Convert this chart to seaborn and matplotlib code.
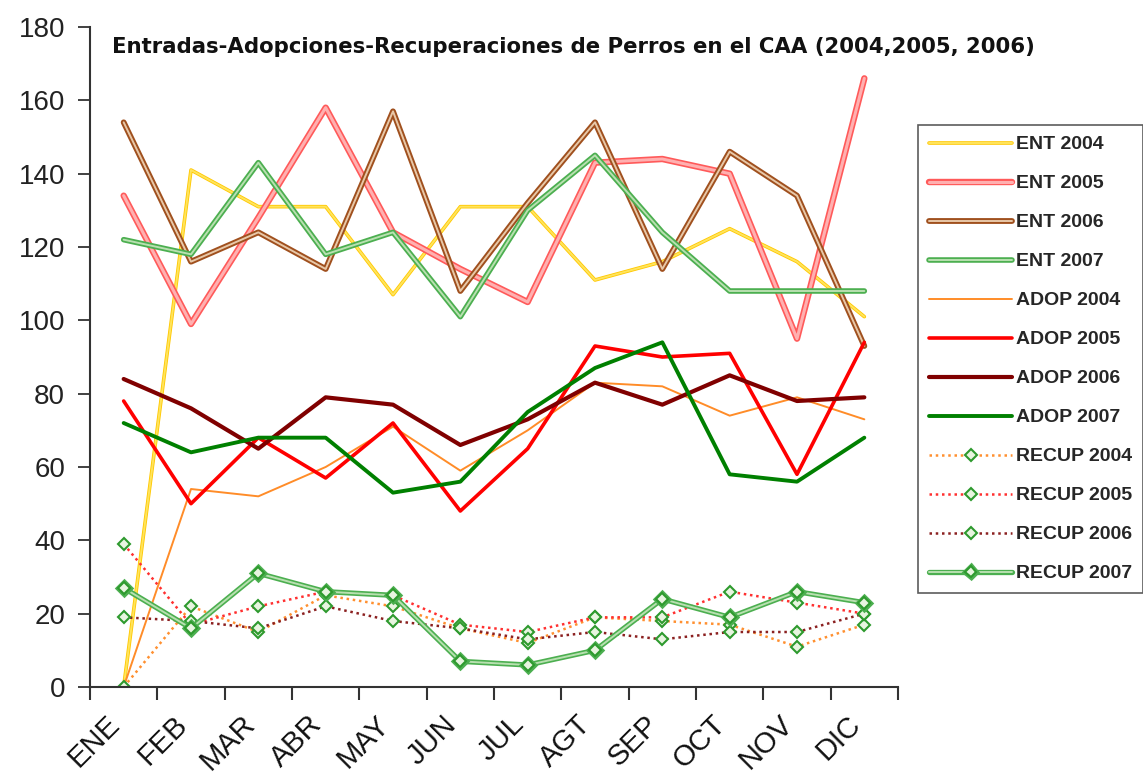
import matplotlib
matplotlib.use("Agg")
import matplotlib.pyplot as plt
import matplotlib.patheffects as pe
import matplotlib.transforms as mtransforms
import seaborn as sns
import pandas as pd
import numpy as np

months = ["ENE", "FEB", "MAR", "ABR", "MAY", "JUN", "JUL", "AGT", "SEP", "OCT", "NOV", "DIC"]

ent_2004 = [0, 141, 131, 131, 107, 131, 131, 111, 116, 125, 116, 101]
ent_2005 = [134, 99, 128, 158, 124, 114, 105, 143, 144, 140, 95, 166]
ent_2006 = [154, 116, 124, 114, 157, 108, 132, 154, 114, 146, 134, 93]
ent_2007 = [122, 118, 143, 118, 124, 101, 130, 145, 124, 108, 108, 108]

adop_2004 = [0, 54, 52, 60, 71, 59, 70, 83, 82, 74, 79, 73]
adop_2005 = [78, 50, 68, 57, 72, 48, 65, 93, 90, 91, 58, 94]
adop_2006 = [84, 76, 65, 79, 77, 66, 73, 83, 77, 85, 78, 79]
adop_2007 = [72, 64, 68, 68, 53, 56, 75, 87, 94, 58, 56, 68]

recup_2004 = [0, 22, 15, 25, 22, 16, 12, 19, 18, 17, 11, 17]
recup_2005 = [39, 17, 22, 26, 25, 17, 15, 19, 19, 26, 23, 20]
recup_2006 = [19, 18, 16, 22, 18, 16, 13, 15, 13, 15, 15, 20]
recup_2007 = [27, 16, 31, 26, 25, 7, 6, 10, 24, 19, 26, 23]

series = [
    ("ENT 2004", ent_2004), ("ENT 2005", ent_2005), ("ENT 2006", ent_2006), ("ENT 2007", ent_2007),
    ("ADOP 2004", adop_2004), ("ADOP 2005", adop_2005), ("ADOP 2006", adop_2006), ("ADOP 2007", adop_2007),
    ("RECUP 2004", recup_2004), ("RECUP 2005", recup_2005), ("RECUP 2006", recup_2006), ("RECUP 2007", recup_2007),
]

styles = {
    "ENT 2004": dict(color="#FFE45C", lw=1.4, ls="-", pe=[pe.Stroke(linewidth=2.6, foreground="#FFC800"), pe.Normal()]),
    "ENT 2005": dict(color="#FFB0B0", lw=2.2, ls="-", pe=[pe.Stroke(linewidth=4.6, foreground="#FF5A5A"), pe.Normal()]),
    "ENT 2006": dict(color="#E8C8A8", lw=1.4, ls="-", pe=[pe.Stroke(linewidth=4.2, foreground="#A0501E"), pe.Normal()]),
    "ENT 2007": dict(color="#B8E0B0", lw=1.4, ls="-", pe=[pe.Stroke(linewidth=4.0, foreground="#4CAF50"), pe.Normal()]),
    "ADOP 2004": dict(color="#FF8C28", lw=1.4, ls="-", pe=None),
    "ADOP 2005": dict(color="#FF0000", lw=2.6, ls="-", pe=None),
    "ADOP 2006": dict(color="#800000", lw=3.0, ls="-", pe=None),
    "ADOP 2007": dict(color="#008000", lw=2.8, ls="-", pe=None),
    "RECUP 2004": dict(color="#FF9030", lw=1.8, ls=(0, (1, 1.5)), pe=None),
    "RECUP 2005": dict(color="#FF3030", lw=1.8, ls=(0, (1, 1.5)), pe=None),
    "RECUP 2006": dict(color="#8B2020", lw=1.8, ls=(0, (1, 1.5)), pe=None),
    "RECUP 2007": dict(color="#B8E0B0", lw=1.4, ls="-", pe=[pe.Stroke(linewidth=3.8, foreground="#4CAF50"), pe.Normal()]),
}

sns.set_theme(style="white")
plt.rcParams['font.family'] = ['Liberation Sans', 'DejaVu Sans']

fig = plt.figure(figsize=(11.43, 7.81), dpi=100)
ax = fig.add_axes([90 / 1143, 1 - 687 / 781, (898 - 90) / 1143, (687 - 27) / 781])

x = np.arange(len(months))
for name, vals in series:
    st = styles[name]
    df = pd.DataFrame({"x": x, "y": vals})
    is_recup = name.startswith("RECUP")
    sns.lineplot(data=df, x="x", y="y", ax=ax, color=st["color"], linewidth=st["lw"],
                 linestyle=st["ls"], label=name,
                 marker="D" if is_recup else None,
                 markersize=6 if is_recup else 0,
                 markerfacecolor="#E8F5E0" if is_recup else None,
                 markeredgecolor="#2E9A2E" if is_recup else None,
                 markeredgewidth=1.5 if is_recup else 0)
    line = ax.get_lines()[-1]
    if st["pe"] is not None:
        line.set_path_effects(st["pe"])

ax.set_xlim(-0.5, 11.5)
ax.set_ylim(0, 180)
ax.set_yticks(np.arange(0, 181, 20))
ax.set_xlabel("")
ax.set_ylabel("")

ax.set_xticks(np.arange(-0.5, 12, 1))
ax.set_xticklabels([])
ax.set_xticks(x, minor=True)
ax.set_xticklabels(months, minor=True, rotation=45, ha="right", va="top",
                   rotation_mode="anchor", fontsize=21, color="#111111")
ax.tick_params(axis="x", which="minor", length=0, pad=8)
ax.tick_params(axis="x", which="major", length=9, width=1.5, color="#333333", direction="out", bottom=True)
ax.tick_params(axis="y", length=9, width=1.3, color="#333333", direction="out", left=True,
               labelsize=20, pad=9, labelcolor="#222222")

offset = mtransforms.ScaledTranslation(-18 / 100, -12 / 100, fig.dpi_scale_trans)
for lab in ax.get_xticklabels(minor=True):
    lab.set_transform(lab.get_transform() + offset)

for s in ["top", "right"]:
    ax.spines[s].set_visible(False)
for s in ["left", "bottom"]:
    ax.spines[s].set_color("#333333")
    ax.spines[s].set_linewidth(1.5)

fig.text(112 / 1143, 1 - 47 / 781, "Entradas-Adopciones-Recuperaciones de Perros en el CAA (2004,2005, 2006)",
         fontsize=15.3, fontweight="bold", ha="left", va="center", color="#111111",
         family=["DejaVu Sans"])

leg = ax.legend(loc="upper left", bbox_to_anchor=(918 / 1143, 1 - 125 / 781),
                bbox_transform=fig.transFigure, frameon=True, fancybox=False,
                prop={"size": 14, "weight": "bold"}, handlelength=4.3, handletextpad=0.2,
                labelspacing=1.1, borderpad=0.55, borderaxespad=0)
leg.get_frame().set_edgecolor("#333333")
leg.get_frame().set_linewidth(1.2)

fig.savefig("out.png", dpi=100)
